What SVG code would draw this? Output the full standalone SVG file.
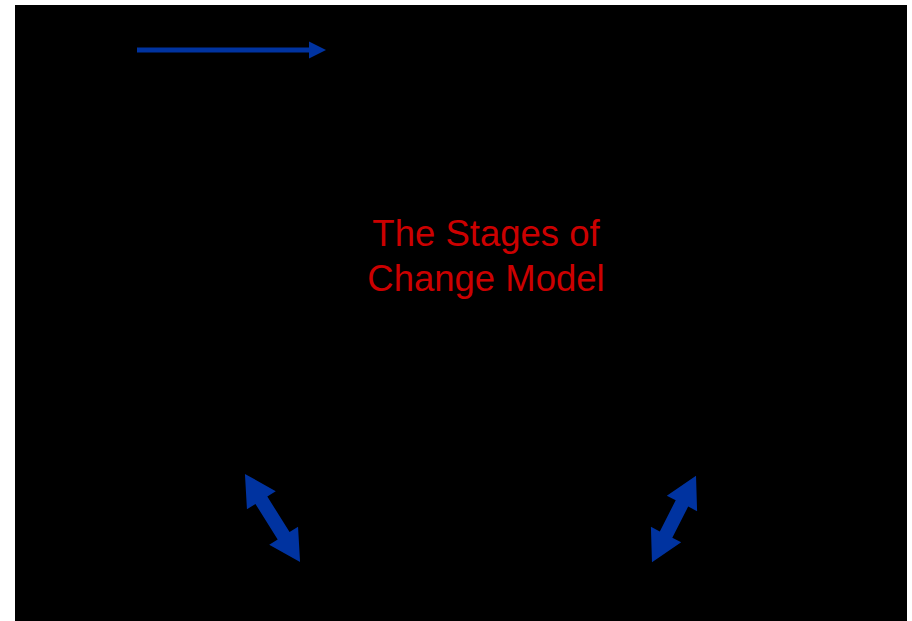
<svg xmlns="http://www.w3.org/2000/svg" width="912" height="621" viewBox="0 0 912 621">
  <style>
    .arrow { fill: #0033a0; }
    .title { font-family: "Liberation Sans", Arial, sans-serif; font-size: 36.5px; fill: #cc0000; text-anchor: middle; }
  </style>
  <defs>
    <marker id="head" markerWidth="4" markerHeight="4" refX="0" refY="2" orient="auto" markerUnits="strokeWidth">
      <path d="M0,0.3 L3.4,2 L0,3.7 Z" class="arrow"/>
    </marker>
  </defs>
  <!-- page -->
  <rect x="0" y="0" width="912" height="621" fill="#ffffff"/>
  <rect x="15" y="5" width="892" height="616" fill="#000000"/>

  <!-- title -->
  <g id="title">
    <text class="title" x="486" y="246">The Stages of</text>
    <text class="title" x="486" y="291">Change Model</text>
  </g>

  <!-- connectors -->
  <g id="connectors">
    <path d="M137,50 H309" stroke="#0033a0" stroke-width="5" fill="none" marker-end="url(#head)"/>
    <path class="arrow" transform="translate(272.5,518) rotate(58)"
          d="M-52,0 L-21,-17 L-21,-7 L21,-7 L21,-17 L52,0 L21,17 L21,7 L-21,7 L-21,17 Z"/>
    <path class="arrow" transform="translate(674,519) rotate(117)"
          d="M-48.5,0 L-17.5,-17 L-17.5,-7 L17.5,-7 L17.5,-17 L48.5,0 L17.5,17 L17.5,7 L-17.5,7 L-17.5,17 Z"/>
  </g>
</svg>
